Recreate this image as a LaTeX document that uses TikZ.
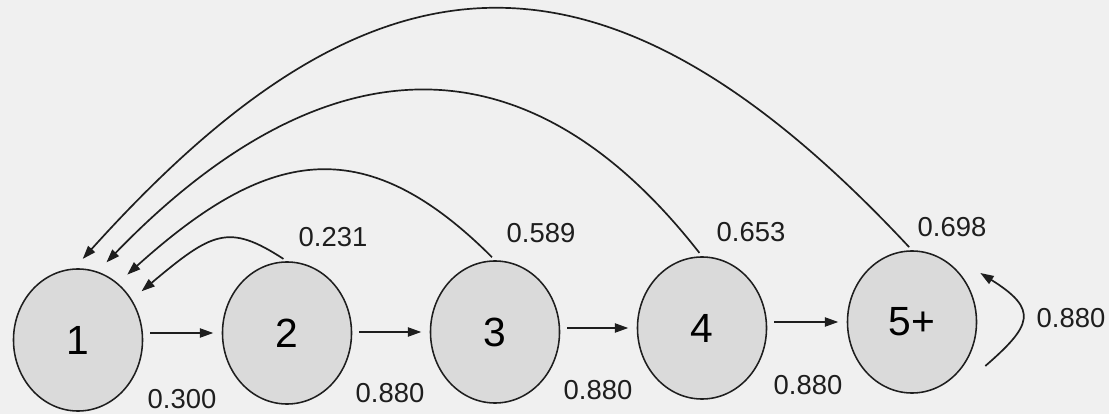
\documentclass[tikz,border=0pt]{standalone}
\usepackage{fontspec}
\setmainfont{Liberation Sans}
\usetikzlibrary{arrows.meta,shapes.geometric}
\definecolor{paper}{RGB}{240,240,240}
\definecolor{statefill}{RGB}{218,218,218}
\definecolor{ink}{RGB}{30,30,30}
\begin{document}
\begin{tikzpicture}[x=0.025cm, y=0.025cm,
    stage/.style={ellipse, draw=ink, line width=1.1pt, fill=statefill, inner sep=0pt,
      minimum width=3.225cm, minimum height=3.55cm, font=\fontsize{29}{29}\selectfont},
    prob/.style={inner sep=0pt, text=ink, font=\fontsize{19.5}{20}\selectfont},
    arr/.style={draw=ink, line width=1.2pt, -{Triangle[length=9.5pt,width=6.5pt]}},
    fwd/.style={arr, shorten <=5pt, shorten >=6pt},
    ret/.style={arr, shorten <=3pt, shorten >=9pt}]
    \fill[paper] (0,0) rectangle (1109,414);
    \useasboundingbox (0,0) rectangle (1109,414);

    \node[stage] (n1) at (78,74) {1};
    \node[stage] (n2) at (287,81) {2};
    \node[stage] (n3) at (495,82) {3};
    \node[stage] (n4) at (702,86) {4};
    \node[stage] (n5) at (912,92) {5+};

    \node[prob] (p12) at (182,15) {0.300};
    \node[prob] (p23) at (390,21) {0.880};
    \node[prob] (p34) at (598,24) {0.880};
    \node[prob] (p45) at (808,29) {0.880};
    \node[prob] (p55) at (1071,96) {0.880};
    \node[prob] (p21) at (333,177) {0.231};
    \node[prob] (p31) at (541,181) {0.589};
    \node[prob] (p41) at (751,182) {0.653};
    \node[prob] (p51) at (952,187) {0.698};

    % forward steps
    \draw[fwd] (n1.east |- n2.west) -- (n2.west);
    \draw[fwd] (n2.east |- n3.west) -- (n3.west);
    \draw[fwd] (n3.east |- n4.west) -- (n4.west);
    \draw[fwd] (n4.east |- n5.west) -- (n5.west);

    % returns to state 1
    \draw[ret] (n2.north) .. controls +(147:70) and +(40:105) .. (n1.37);
    \draw[ret] (n3.north) .. controls +(135:189) and +(42:197) .. (n1.55);
    \draw[ret] (n4.north) .. controls +(128:326) and +(46:275) .. (n1.74);
    \draw[ret] (n5.north) .. controls +(133:469) and +(48:430) .. (n1.93);

    % staying in 5+
    \draw[arr] ([shift={(8,-44)}]n5.east) .. controls +(41:62) and +(-32:69) .. ([shift={(3,49)}]n5.east);
\end{tikzpicture}
\end{document}
